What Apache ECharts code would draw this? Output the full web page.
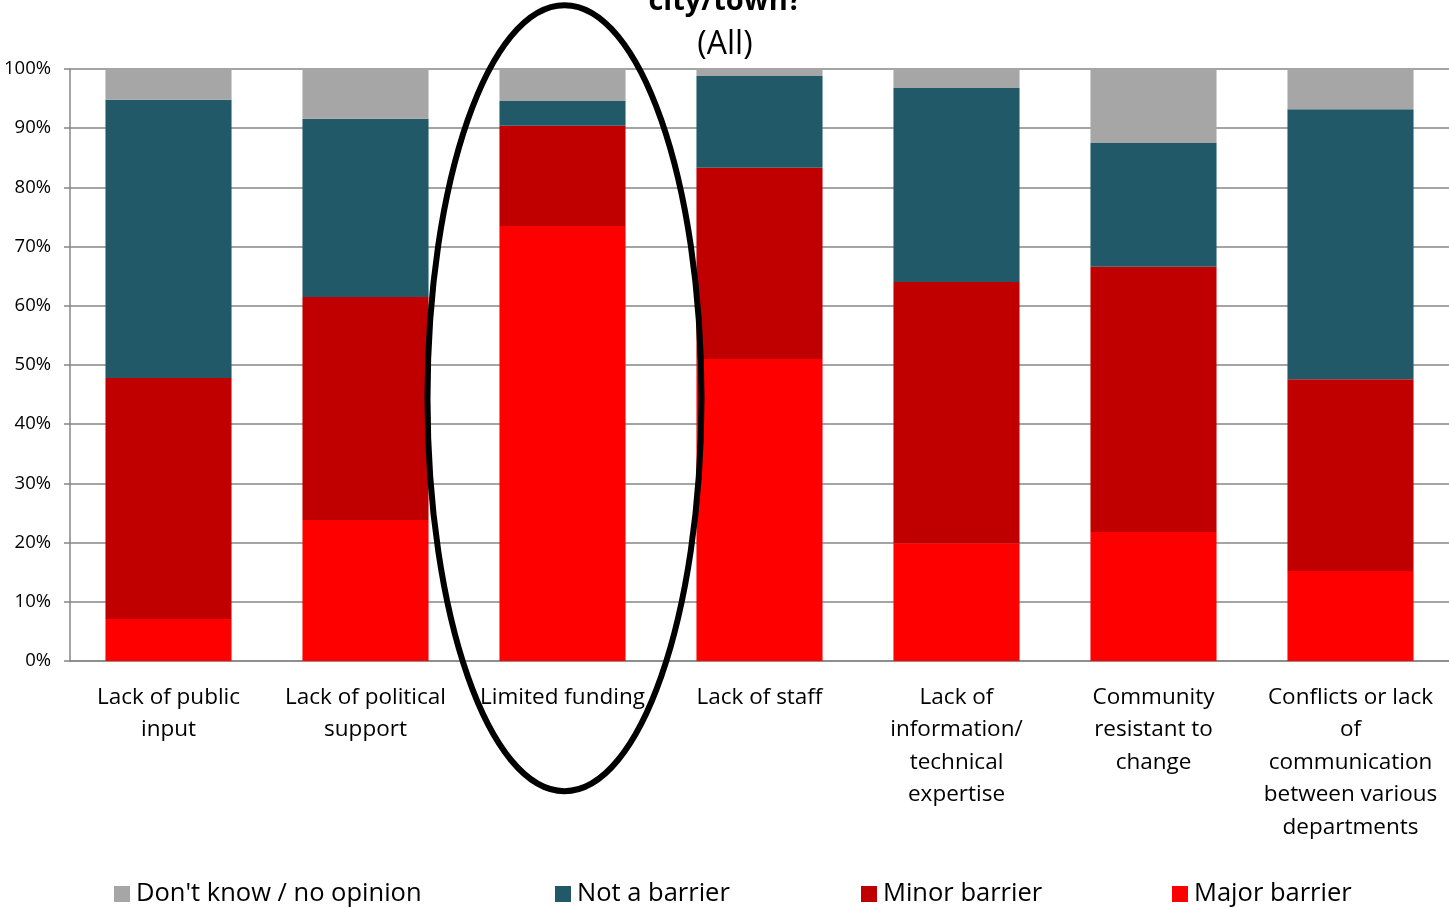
<!DOCTYPE html>
<html><head><meta charset="utf-8">
<script src="https://cdn.jsdelivr.net/npm/echarts@6/dist/echarts.min.js"></script>
<style>html,body{margin:0;padding:0;background:#fff}#c{width:1449px;height:908px}</style>
</head><body><div id="c"></div>
<script>
const categories = ['Lack of public\ninput','Lack of political\nsupport','Limited funding','Lack of staff','Lack of\ninformation/\ntechnical\nexpertise','Community\nresistant to\nchange','Conflicts or lack\nof\ncommunication\nbetween various\ndepartments'];
const majorBarrier = [7.1, 23.8, 73.5, 51.0, 19.9, 21.8, 15.2];
const minorBarrier = [40.7, 37.7, 16.9, 32.3, 44.1, 44.8, 32.4];
const notBarrier   = [47.0, 30.1, 4.2, 15.5, 32.8, 20.9, 45.6];
const dontKnow     = [5.2, 8.4, 5.4, 1.2, 3.2, 12.5, 6.8];
const legendNames  = ["Don't know / no opinion", 'Not a barrier', 'Minor barrier', 'Major barrier'];
const yTicks = [0,10,20,30,40,50,60,70,80,90,100];
const titleLine1 = 'city/town?';
const titleLine2 = '(All)';

const chart = echarts.init(document.getElementById('c'));
const font = '"Open Sans", "Noto Sans", sans-serif';
const mk = (name, data, color) => ({name, type:'bar', stack:'s', data, barWidth:'64%', itemStyle:{color}});
const legendLefts = [109, 550, 856, 1167];
chart.setOption({
  animation:false,
  textStyle:{fontFamily:font},
  grid:{left:70, right:0, top:69, bottom:247},
  xAxis:{type:'category', data:categories,
    axisLine:{lineStyle:{color:'#868686', width:1.5}}, axisTick:{show:false},
    axisLabel:{color:'#000', fontSize:22.5, lineHeight:32.5, margin:20, interval:0, fontFamily:font}},
  yAxis:{type:'value', min:0, max:100, interval:10,
    axisLine:{show:true, lineStyle:{color:'#868686', width:1.5}},
    axisTick:{show:true, inside:false, length:6, lineStyle:{color:'#868686', width:1.5}},
    splitLine:{lineStyle:{color:'#868686', width:1.5}},
    axisLabel:{color:'#000', fontSize:18.5, margin:19, formatter:v=>yTicks.includes(v)?v+'%':''}},
  legend: legendNames.map((n,i)=>({bottom:-4, left:legendLefts[i], itemWidth:16, itemHeight:16, itemGap:0, icon:'rect',
    data:[n], textStyle:{fontSize:25.5, color:'#000', fontFamily:font, padding:[0,0,0,1]}})),
  series:[
    mk('Major barrier', majorBarrier, '#FF0000'),
    mk('Minor barrier', minorBarrier, '#C00000'),
    mk('Not a barrier', notBarrier, '#215968'),
    mk("Don't know / no opinion", dontKnow, '#A6A6A6')
  ]
});
const c = chart.convertToPixel({xAxisIndex:0, yAxisIndex:0}, [categories[2], 44.4]);
chart.setOption({graphic:[
  {type:'text', style:{text:titleLine1, font:'bold 29px '+font, fill:'#000', x:725, y:-13, textAlign:'center'}},
  {type:'ellipse', shape:{cx:c[0]+2, cy:c[1], rx:137, ry:393}, style:{fill:'none', stroke:'#000', lineWidth:6}, z:100},
  {type:'text', style:{text:titleLine2, font:'32px '+font, fill:'#000', x:725, y:29, textAlign:'center'}}
]});
</script></body></html>
